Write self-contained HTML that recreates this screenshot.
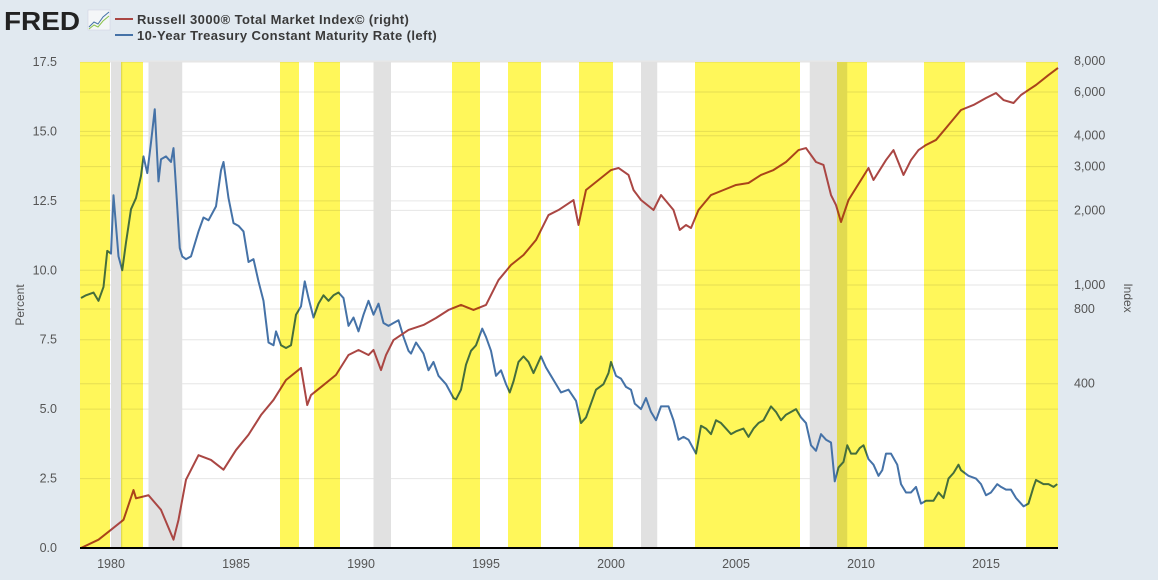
<!DOCTYPE html>
<html><head><meta charset="utf-8"><style>
html,body{margin:0;padding:0;background:#e1e9f0;}
svg{display:block;font-family:"Liberation Sans",sans-serif;}
</style></head><body>
<svg id="chart" width="1158" height="580" viewBox="0 0 1158 580" xmlns="http://www.w3.org/2000/svg">
<rect width="1158" height="580" fill="#e1e9f0"/>
<g>
<text x="4" y="30" font-size="26" font-weight="bold" fill="#222" textLength="76" lengthAdjust="spacingAndGlyphs">FRED</text>
<rect x="88" y="10" width="22" height="20" fill="#f4f6f8" stroke="#ccd" stroke-width="0.5"/>
<polyline points="89,27 94,22 98,24 103,17 109,12" fill="none" stroke="#4572a7" stroke-width="1"/>
<polyline points="89,29 94,25 98,27 103,21 109,16" fill="none" stroke="#8bc34a" stroke-width="1"/>
</g>
<g>
<g>
<line x1="115" y1="19" x2="133" y2="19" stroke="#aa4643" stroke-width="2"/>
<text x="137" y="24" font-size="13" font-weight="bold" fill="#3a3a3a" letter-spacing="0.4">Russell 3000® Total Market Index© (right)</text>
</g>
<g>
<line x1="115" y1="35" x2="133" y2="35" stroke="#4572a7" stroke-width="2"/>
<text x="137" y="40" font-size="13" font-weight="bold" fill="#3a3a3a" letter-spacing="0.4">10-Year Treasury Constant Maturity Rate (left)</text>
</g>
</g>
<rect x="80" y="62" width="978" height="486" fill="#fff"/>
<g id="grid"></g>
<g id="recess"></g>
<g id="lines"></g>
<g id="yellow" style="mix-blend-mode:multiply"></g>
<g id="axes"></g>
<text transform="translate(24,305) rotate(-90)" text-anchor="middle" font-size="12" fill="#555">Percent</text>
<text transform="translate(1124,298) rotate(90)" text-anchor="middle" font-size="12" fill="#555">Index</text>
</svg>
<script>
const leftTicks = [0, 2.5, 5, 7.5, 10, 12.5, 15, 17.5];
const rightTicks = [400, 800, 1000, 2000, 3000, 4000, 6000, 8000];
const xTicks = [1980, 1985, 1990, 1995, 2000, 2005, 2010, 2015];
const recessions = [[1980.0, 1980.45], [1981.5, 1982.85], [1990.5, 1991.2], [2001.2, 2001.85], [2007.95, 2009.45]];
const highlights = [[1978.76, 1979.96], [1980.4, 1981.28], [1986.76, 1987.52], [1988.12, 1989.16], [1993.64, 1994.76], [1995.88, 1997.2], [1998.72, 2000.08], [2003.36, 2007.56], [2009.04, 2010.24], [2012.52, 2014.16], [2016.6, 2017.88]];
const tsyYears = [1978.8,1979.0,1979.3,1979.5,1979.7,1979.85,1980.0,1980.1,1980.3,1980.45,1980.6,1980.8,1981.0,1981.2,1981.3,1981.45,1981.6,1981.75,1981.9,1982.0,1982.2,1982.4,1982.5,1982.6,1982.75,1982.85,1983.0,1983.2,1983.5,1983.7,1983.9,1984.2,1984.4,1984.5,1984.7,1984.9,1985.1,1985.3,1985.5,1985.7,1985.9,1986.1,1986.3,1986.5,1986.6,1986.8,1987.0,1987.2,1987.4,1987.6,1987.75,1987.9,1988.1,1988.3,1988.5,1988.7,1988.9,1989.1,1989.3,1989.5,1989.7,1989.9,1990.1,1990.3,1990.5,1990.7,1990.9,1991.1,1991.3,1991.5,1991.7,1991.9,1992.0,1992.2,1992.5,1992.7,1992.9,1993.1,1993.4,1993.7,1993.8,1994.0,1994.2,1994.4,1994.6,1994.85,1995.0,1995.2,1995.4,1995.6,1995.8,1995.95,1996.1,1996.3,1996.5,1996.7,1996.9,1997.2,1997.4,1997.6,1997.8,1998.0,1998.3,1998.6,1998.8,1999.0,1999.2,1999.4,1999.7,1999.9,2000.0,2000.2,2000.4,2000.6,2000.8,2000.95,2001.2,2001.4,2001.6,2001.8,2002.0,2002.3,2002.5,2002.7,2002.9,2003.1,2003.4,2003.6,2003.8,2004.0,2004.2,2004.4,2004.6,2004.8,2005.0,2005.3,2005.5,2005.7,2005.9,2006.1,2006.4,2006.6,2006.8,2007.0,2007.4,2007.6,2007.8,2008.0,2008.2,2008.4,2008.6,2008.8,2008.95,2009.1,2009.3,2009.45,2009.6,2009.8,2009.95,2010.1,2010.3,2010.5,2010.7,2010.85,2011.0,2011.2,2011.45,2011.6,2011.8,2012.0,2012.2,2012.4,2012.6,2012.9,2013.1,2013.3,2013.5,2013.7,2013.9,2014.0,2014.3,2014.6,2014.8,2015.0,2015.2,2015.45,2015.6,2015.8,2016.0,2016.2,2016.5,2016.7,2016.9,2017.0,2017.3,2017.5,2017.7,2017.85];
const tsyValues = [9.0,9.1,9.2,8.9,9.4,10.7,10.6,12.7,10.5,10.0,11.0,12.2,12.6,13.4,14.1,13.5,14.6,15.8,13.2,14.0,14.1,13.9,14.4,13.0,10.8,10.5,10.4,10.5,11.4,11.9,11.8,12.3,13.6,13.9,12.6,11.7,11.6,11.4,10.3,10.4,9.6,8.9,7.4,7.3,7.8,7.3,7.2,7.3,8.4,8.7,9.6,9.0,8.3,8.8,9.1,8.9,9.1,9.2,9.0,8.0,8.3,7.8,8.4,8.9,8.4,8.8,8.1,8.0,8.1,8.2,7.6,7.1,7.0,7.4,7.0,6.4,6.7,6.2,5.9,5.4,5.35,5.7,6.6,7.1,7.3,7.9,7.6,7.1,6.2,6.4,5.9,5.6,6.0,6.7,6.9,6.7,6.3,6.9,6.5,6.2,5.9,5.6,5.7,5.3,4.5,4.7,5.2,5.7,5.9,6.3,6.7,6.2,6.1,5.8,5.7,5.2,5.0,5.4,4.9,4.6,5.1,5.1,4.6,3.9,4.0,3.9,3.4,4.4,4.3,4.1,4.6,4.5,4.3,4.1,4.2,4.3,4.0,4.3,4.5,4.6,5.1,4.9,4.6,4.8,5.0,4.7,4.5,3.7,3.5,4.1,3.9,3.8,2.4,2.9,3.1,3.7,3.4,3.4,3.6,3.7,3.2,3.0,2.6,2.8,3.4,3.4,3.0,2.3,2.0,2.0,2.2,1.6,1.7,1.7,2.0,1.8,2.5,2.7,3.0,2.8,2.6,2.5,2.3,1.9,2.0,2.3,2.2,2.1,2.1,1.8,1.5,1.6,2.2,2.45,2.3,2.3,2.2,2.3];
const rusYears = [1978.8,1979.5,1980.0,1980.5,1980.9,1981.0,1981.5,1982.0,1982.5,1982.7,1983.0,1983.5,1984.0,1984.5,1985.0,1985.5,1986.0,1986.5,1987.0,1987.6,1987.85,1988.0,1988.5,1989.0,1989.5,1989.9,1990.3,1990.5,1990.8,1991.0,1991.3,1991.9,1992.5,1993.0,1993.5,1994.0,1994.5,1995.0,1995.5,1996.0,1996.5,1997.0,1997.5,1997.9,1998.5,1998.7,1999.0,1999.5,2000.0,2000.3,2000.7,2000.9,2001.2,2001.7,2002.0,2002.5,2002.75,2003.0,2003.2,2003.5,2004.0,2004.5,2005.0,2005.5,2006.0,2006.5,2007.0,2007.5,2007.8,2008.2,2008.5,2008.8,2009.0,2009.2,2009.5,2010.0,2010.3,2010.5,2011.0,2011.3,2011.7,2012.0,2012.3,2012.6,2013.0,2013.5,2014.0,2014.5,2015.0,2015.4,2015.7,2016.1,2016.4,2016.7,2017.0,2017.5,2017.88];
const rusValues = [87,94,103,113,149,138,142,124,94,113,164,206,197,180,216,249,299,344,414,463,328,360,395,434,522,547,522,547,454,522,600,659,690,736,793,831,793,831,1047,1204,1321,1518,1914,2006,2201,1746,2416,2651,2908,2964,2778,2416,2201,2006,2306,2006,1667,1746,1698,2006,2306,2416,2531,2578,2778,2908,3133,3500,3567,3133,3048,2306,2101,1795,2201,2651,2964,2651,3190,3500,2778,3190,3500,3670,3845,4416,5077,5320,5678,5946,5570,5418,5836,6115,6404,7025,7500];

const NS='http://www.w3.org/2000/svg';
const X0=80,X1=1058,Y0=62,Y1=548;
const xS=y=>X0+(y-1978.76)*25;
const yL=v=>Y1-v*(Y1-Y0)/17.5;
const yR=v=>285-(Math.log10(v)-3)*248;
function mk(t,a,p){const e=document.createElementNS(NS,t);for(const k in a)e.setAttribute(k,a[k]);p.appendChild(e);return e;}
const grid=document.getElementById('grid'),axes=document.getElementById('axes');
leftTicks.forEach(v=>{
  const l=mk('line',{x1:X0,x2:X1,y1:yL(v),y2:yL(v),stroke:'#e6e6e6','stroke-width':1},grid);
  
  
  const t=mk('text',{x:57,y:yL(v)+4,'text-anchor':'end','font-size':12.5,fill:'#555'},axes);
  t.textContent=v.toFixed(1);
  
  
});
rightTicks.forEach(v=>{
  const l=mk('line',{x1:X0,x2:X1,y1:yR(v),y2:yR(v),stroke:'#e6e6e6','stroke-width':1},grid);
  
  
  const t=mk('text',{x:1074,y:yR(v)+4,'font-size':12.5,fill:'#555'},axes);
  t.textContent=v.toLocaleString('en-US');
  
  
});
xTicks.forEach(v=>{
  const t=mk('text',{x:xS(v),y:568,'text-anchor':'middle','font-size':12.5,fill:'#555'},axes);
  t.textContent=v;
  
  
});
const base=mk('line',{x1:X0,x2:X1,y1:Y1,y2:Y1,stroke:'#000','stroke-width':2},axes);


const rg=document.getElementById('recess');
recessions.forEach(r=>{
  const e=mk('rect',{x:xS(r[0]),y:Y0,width:xS(r[1])-xS(r[0]),height:Y1-Y0,fill:'#e1e1e1'},rg);
  
  
});
const yg=document.getElementById('yellow');
highlights.forEach(r=>{
  const e=mk('rect',{x:xS(r[0]),y:Y0,width:xS(r[1])-xS(r[0]),height:Y1-Y0,fill:'#fff75a'},yg);
  
  
});
const lg=document.getElementById('lines');
const tp=mk('polyline',{points:tsyYears.map((y,i)=>xS(y)+','+yL(tsyValues[i])).join(' '),fill:'none',stroke:'#4572a7','stroke-width':2,'stroke-linejoin':'round'},lg);


const rp=mk('polyline',{points:rusYears.map((y,i)=>xS(y)+','+yR(rusValues[i])).join(' '),fill:'none',stroke:'#aa4643','stroke-width':2,'stroke-linejoin':'round'},lg);


</script>
</body></html>
